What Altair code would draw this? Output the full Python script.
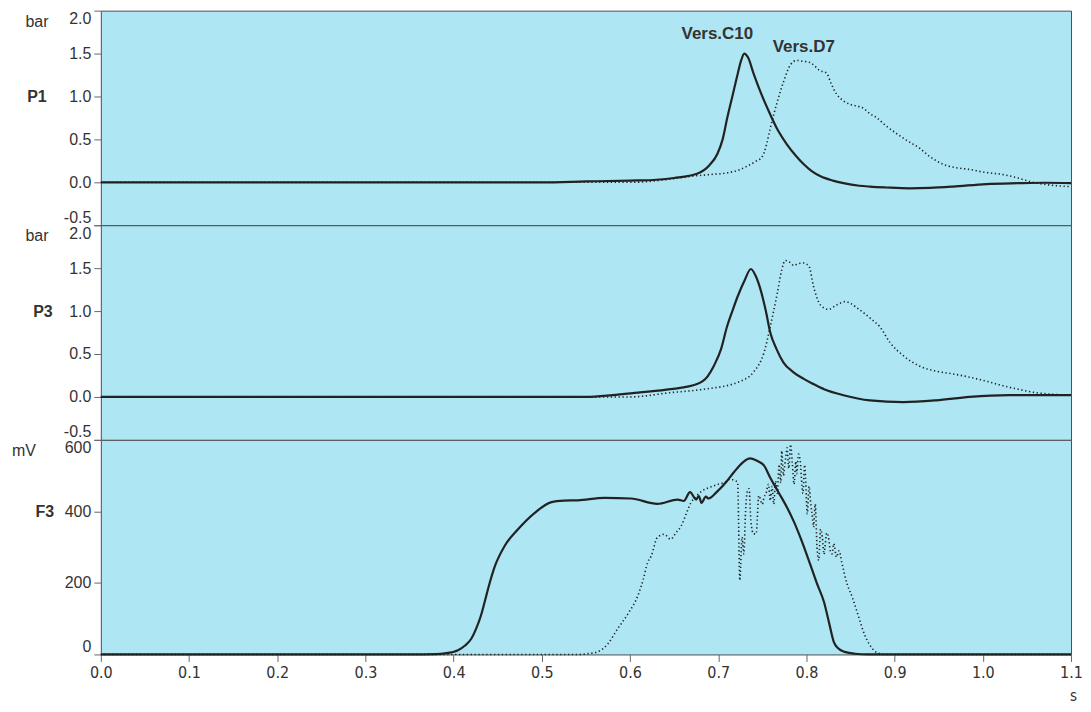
import altair as alt
import pandas as pd

# ---------------- data ----------------
# P1 (bar) - Vers.C10 (solid)
p1_c10_t = [0.0, 0.1, 0.2, 0.3, 0.4, 0.5, 0.55, 0.6, 0.63, 0.65, 0.676, 0.69, 0.699, 0.705, 0.71, 0.716,
            0.722, 0.726, 0.7295, 0.734, 0.740, 0.748, 0.759, 0.768, 0.778, 0.788, 0.797, 0.806, 0.816,
            0.83, 0.842, 0.86, 0.872, 0.89, 0.917, 0.94, 0.966, 1.004, 1.04, 1.07, 1.1]
p1_c10_v = [0.0, 0.0, 0.0, 0.0, 0.0, 0.0, 0.01, 0.02, 0.03, 0.05, 0.10, 0.2, 0.33, 0.5, 0.74, 1.0,
            1.26, 1.42, 1.50, 1.45, 1.27, 1.05, 0.79, 0.6, 0.44, 0.31, 0.21, 0.13, 0.07,
            0.02, -0.01, -0.04, -0.05, -0.06, -0.07, -0.065, -0.05, -0.02, -0.01, -0.005, -0.01]
# P1 (bar) - Vers.D7 (dotted)
p1_d7_t = [0.0, 0.2, 0.4, 0.6, 0.64, 0.669, 0.69, 0.710, 0.725, 0.733, 0.742, 0.750, 0.755, 0.759, 0.767,
           0.774, 0.782, 0.789, 0.796, 0.803, 0.809, 0.814, 0.823, 0.828, 0.834, 0.842, 0.849, 0.857,
           0.865, 0.872, 0.880, 0.890, 0.902, 0.915, 0.928, 0.94, 0.955, 0.97, 0.985, 1.0, 1.023,
           1.04, 1.053, 1.075, 1.1]
p1_d7_v = [0.0, 0.0, 0.0, 0.0, 0.03, 0.07, 0.09, 0.11, 0.15, 0.19, 0.24, 0.30, 0.45, 0.63, 0.94,
           1.17, 1.37, 1.42, 1.41, 1.40, 1.36, 1.31, 1.27, 1.15, 1.03, 0.95, 0.91, 0.89,
           0.86, 0.80, 0.75, 0.66, 0.57, 0.48, 0.40, 0.30, 0.21, 0.17, 0.15, 0.12, 0.09,
           0.05, 0.01, -0.03, -0.05]

# P3 (bar) - Vers.C10 (solid)
p3_c10_t = [0.0, 0.2, 0.4, 0.55, 0.58, 0.609, 0.646, 0.676, 0.688, 0.695, 0.703, 0.710, 0.716, 0.722,
            0.730, 0.737, 0.742, 0.748, 0.754, 0.759, 0.766, 0.774, 0.785, 0.797, 0.808, 0.820, 0.842,
            0.872, 0.910, 0.947, 0.985, 1.03, 1.1]
p3_c10_v = [0.0, 0.0, 0.0, 0.0, 0.02, 0.05, 0.09, 0.15, 0.24, 0.36, 0.55, 0.82, 1.0, 1.17,
            1.36, 1.49, 1.42, 1.25, 1.0, 0.75, 0.56, 0.40, 0.29, 0.21, 0.15, 0.09, 0.02,
            -0.04, -0.06, -0.04, 0.0, 0.02, 0.02]
# P3 (bar) - Vers.D7 (dotted)
p3_d7_t = [0.0, 0.2, 0.4, 0.6, 0.646, 0.684, 0.722, 0.740, 0.752, 0.759, 0.767, 0.772, 0.776, 0.781,
           0.786, 0.790, 0.797, 0.803, 0.808, 0.816, 0.825, 0.834, 0.844, 0.850, 0.857, 0.865, 0.872,
           0.883, 0.895, 0.910, 0.928, 0.947, 0.965, 0.985, 1.005, 1.023, 1.04, 1.060, 1.08, 1.1]
p3_d7_v = [0.0, 0.0, 0.0, 0.0, 0.05, 0.09, 0.17, 0.29, 0.52, 0.82, 1.21, 1.48, 1.59, 1.57,
           1.53, 1.55, 1.56, 1.52, 1.29, 1.07, 1.02, 1.07, 1.11, 1.09, 1.04, 0.98, 0.92,
           0.82, 0.63, 0.48, 0.36, 0.30, 0.27, 0.23, 0.18, 0.13, 0.09, 0.05, 0.03, 0.02]

# F3 (mV) - Vers.C10 (solid)
f3_c10_t = [0.0, 0.2, 0.35, 0.38, 0.390, 0.405, 0.413, 0.420, 0.426, 0.431, 0.435, 0.439, 0.447, 0.458,
            0.473, 0.492, 0.511, 0.525, 0.541, 0.571, 0.601, 0.631, 0.654, 0.661, 0.668, 0.675, 0.678,
            0.681, 0.686, 0.689, 0.699, 0.710, 0.718, 0.728, 0.736, 0.745, 0.752, 0.759, 0.768, 0.778,
            0.786, 0.793, 0.804, 0.812, 0.820, 0.826, 0.831, 0.836, 0.842, 0.855, 0.87, 1.0, 1.1]
f3_c10_v = [0, 0, 0, 1, 3, 12, 25, 44, 75, 109, 145, 183, 248, 304,
            350, 396, 426, 430, 431, 438, 436, 421, 433, 429, 454, 433, 443,
            424, 441, 436, 456, 485, 510, 537, 548, 540, 528, 494, 455, 411,
            370, 328, 254, 198, 146, 85, 35, 17, 8, 2, 0, 0, 0]
# F3 (mV) - Vers.D7 (dotted)
f3_d7_t = [0.0, 0.3, 0.52, 0.541, 0.555, 0.563, 0.575, 0.586, 0.598, 0.609, 0.615, 0.620, 0.624, 0.631,
           0.639, 0.646, 0.652, 0.658, 0.664, 0.669, 0.675, 0.680, 0.692, 0.699, 0.707, 0.714, 0.718,
           0.722, 0.7245, 0.727, 0.729, 0.731, 0.733, 0.735, 0.737, 0.740, 0.743, 0.746, 0.750, 0.752,
           0.754, 0.757, 0.759, 0.761, 0.763, 0.765, 0.767, 0.769, 0.771, 0.772, 0.774, 0.775, 0.777,
           0.778, 0.780, 0.782, 0.784, 0.786, 0.788, 0.789, 0.791, 0.793, 0.795, 0.796, 0.798, 0.799,
           0.801, 0.803, 0.805, 0.807, 0.808, 0.810, 0.812, 0.814, 0.816, 0.818, 0.820, 0.821, 0.823,
           0.825, 0.827, 0.829, 0.831, 0.834, 0.837, 0.840, 0.846, 0.852, 0.856, 0.861, 0.866, 0.872,
           0.880, 0.89, 1.0, 1.1]
f3_d7_v = [0, 0, 0, 0, 3, 7, 30, 72, 115, 165, 210, 257, 275, 327,
           336, 322, 340, 359, 395, 424, 442, 454, 469, 475, 481, 490, 487,
           481, 207, 328, 281, 400, 457, 463, 374, 337, 337, 444, 420, 440,
           448, 476, 430, 470, 420, 485, 450, 531, 480, 569, 500, 520, 560,
           578, 520, 587, 535, 476, 540, 505, 560, 541, 470, 450, 530, 495,
           393, 470, 420, 380, 356, 420, 300, 263, 350, 328, 280, 300, 340,
           328, 290, 281, 310, 272, 290, 258, 198, 160, 130, 91, 55, 26,
           5, 0, 0, 0]

p_ticks = [-0.5, 0.0, 0.5, 1.0, 1.5, 2.0]
f_ticks = [0, 200, 400, 600]
x_ticks = [0.0, 0.1, 0.2, 0.3, 0.4, 0.5, 0.6, 0.7, 0.8, 0.9, 1.0, 1.1]

# ---------------- styling ----------------
FONT = "Liberation Sans"
NARROW = "Liberation Sans Narrow, DejaVu Sans Condensed, Roboto Condensed, Liberation Sans, sans-serif"
INK = "#222222"
LABEL = "#333333"
W = 972
H = 215


def df(t, v):
    return pd.DataFrame({"t": t, "v": v})


def y_axis(values, fmt):
    return alt.Axis(values=values, labelExpr=fmt, labelFont=FONT, labelFontSize=16,
                    labelColor=LABEL, tickColor="#666666", tickSize=7, labelPadding=3,
                    domain=False, grid=False, title=None, labelFlush=True, labelOverlap=False)


def panel(solid, dotted, domain, yvals, yfmt, unit, unit_x, name, name_x, name_y, xaxis):
    xenc = alt.X("t:Q", scale=alt.Scale(domain=[0, 1.1], nice=False, zero=False), axis=xaxis)
    yenc = alt.Y("v:Q", scale=alt.Scale(domain=domain, nice=False, zero=False),
                 axis=y_axis(yvals, yfmt))
    s = alt.Chart(solid).mark_line(color=INK, strokeWidth=2.2, interpolate="monotone").encode(x=xenc, y=yenc)
    d = alt.Chart(dotted).mark_line(color=INK, strokeWidth=1.6, strokeDash=[1.3, 2.6],
                                    interpolate="monotone").encode(x=xenc, y=yenc)
    u = alt.Chart(pd.DataFrame({"txt": [unit]})).mark_text(
        font=FONT, fontSize=16, color=LABEL, align="center", baseline="middle"
    ).encode(x=alt.value(unit_x), y=alt.value(11), text="txt:N")
    n = alt.Chart(pd.DataFrame({"txt": [name]})).mark_text(
        font=FONT, fontSize=16, fontWeight="bold", color=LABEL, align="center", baseline="middle"
    ).encode(x=alt.value(name_x), y=alt.value(name_y), text="txt:N")
    return alt.layer(s, d, u, n).properties(width=W, height=H)


p_fmt = "datum.value < 0 ? '-' + format(-datum.value, '.1f') : format(datum.value, '.1f')"
f_fmt = "format(datum.value, 'd')"

p1 = panel(df(p1_c10_t, p1_c10_v), df(p1_d7_t, p1_d7_v), [-0.5, 2.0], p_ticks, p_fmt,
           "bar", -64, "P1", -64, 87, None)

ann = pd.DataFrame({"t": [0.699, 0.797], "v": [1.73, 1.58], "txt": ["Vers.C10", "Vers.D7"]})
ann_layer = alt.Chart(ann).mark_text(font=FONT, fontSize=17, fontWeight="bold", color=LABEL,
                                     align="center", baseline="middle").encode(
    x=alt.X("t:Q", scale=alt.Scale(domain=[0, 1.1], nice=False, zero=False), axis=None),
    y=alt.Y("v:Q", scale=alt.Scale(domain=[-0.5, 2.0], nice=False, zero=False)),
    text="txt:N")
p1 = alt.layer(p1, ann_layer)

p3 = panel(df(p3_c10_t, p3_c10_v), df(p3_d7_t, p3_d7_v), [-0.5, 2.0], p_ticks, p_fmt,
           "bar", -64, "P3", -58, 87, None)

bottom_axis = alt.Axis(values=x_ticks, format=".1f", labelFont=NARROW, labelFontSize=16,
                       labelColor=LABEL, tickColor="#666666", tickSize=7, labelPadding=3,
                       domain=False, grid=False, labelFlush=False, labelOverlap=False,
                       title="s", titleFont=NARROW, titleFontSize=15, titleFontWeight="normal",
                       titleColor=LABEL, titleX=974, titleY=41, titleAlign="center",
                       titleBaseline="middle")

f3 = panel(df(f3_c10_t, f3_c10_v), df(f3_d7_t, f3_d7_v), [0, 600], f_ticks, f_fmt,
           "mV", -77, "F3", -56, 72, bottom_axis)

chart = alt.vconcat(p1, p3, f3, spacing=0, bounds="flush").resolve_scale(y="independent").properties(
    padding={"left": 3, "top": 1, "right": 0, "bottom": 0},
    background="white",
).configure_view(fill="#AEE6F4", stroke="#4d4d4d", strokeWidth=1)

chart.save("out.html", embed_options={"renderer": "svg", "actions": False})
